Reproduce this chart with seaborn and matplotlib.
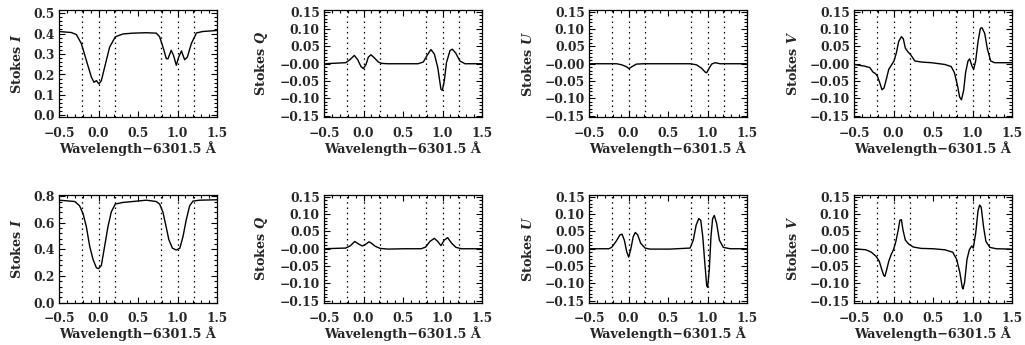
import numpy as np
import pandas as pd
import matplotlib
matplotlib.use("Agg")
import matplotlib.pyplot as plt
from matplotlib.ticker import MultipleLocator, AutoMinorLocator
import seaborn as sns

# ---------------- data ----------------
# Row 1, Stokes I
i1_x = [-0.5, -0.344, -0.28, -0.217, -0.154, -0.09, -0.057, -0.027, 0.006, 0.036, 0.078, 0.141,
        0.213, 0.31, 0.437, 0.605, 0.732, 0.774, 0.816, 0.859, 0.88, 0.92, 0.95, 0.985, 1.015,
        1.05, 1.09, 1.125, 1.175, 1.24, 1.32, 1.5]
i1_y = [0.410, 0.405, 0.395, 0.351, 0.269, 0.187, 0.162, 0.170, 0.154, 0.170, 0.236, 0.334,
        0.384, 0.398, 0.402, 0.404, 0.402, 0.384, 0.334, 0.277, 0.277, 0.318, 0.293, 0.245, 0.285,
        0.315, 0.272, 0.285, 0.351, 0.403, 0.410, 0.415]
# Row 1, Stokes Q
q1_x = [-0.5, -0.226, -0.17, -0.116, -0.074, -0.032, -0.002, 0.032, 0.061, 0.095, 0.137, 0.188,
        0.23, 0.31, 0.52, 0.69, 0.757, 0.81, 0.854, 0.897, 0.94, 0.98, 0.998, 1.023, 1.05, 1.095,
        1.124, 1.167, 1.22, 1.285, 1.5]
q1_y = [0.0, 0.003, 0.012, 0.024, 0.012, -0.008, -0.014, -0.002, 0.019, 0.026, 0.017, 0.005,
        0.001, 0.0, 0.0, 0.0, 0.005, 0.026, 0.041, 0.028, -0.011, -0.073, -0.077, -0.049, 0.003,
        0.038, 0.042, 0.031, 0.008, 0.0, 0.0]
# Row 1, Stokes U
u1_x = [-0.5, -0.15, -0.086, -0.023, 0.006, 0.04, 0.1, 0.19, 0.78, 0.86, 0.926, 0.97, 0.99,
        1.023, 1.053, 1.095, 1.16, 1.5]
u1_y = [0.0, 0.0, -0.003, -0.009, -0.014, -0.009, -0.001, 0.0, 0.0, -0.003, -0.013, -0.024,
        -0.026, -0.012, -0.001, 0.003, 0.0, 0.0]
# Row 1, Stokes V
v1_x = [-0.5, -0.365, -0.3, -0.26, -0.23, -0.205, -0.175, -0.146, -0.12, -0.09, -0.06, -0.027,
        0.006, 0.036, 0.065, 0.1, 0.124, 0.15, 0.184, 0.217, 0.27, 0.35, 0.48, 0.648, 0.73, 0.77,
        0.81, 0.837, 0.86, 0.888, 0.913, 0.943, 0.964, 0.994, 1.015, 1.04, 1.07, 1.1, 1.12,
        1.154, 1.19, 1.23, 1.28, 1.5]
v1_y = [-0.002, -0.007, -0.011, -0.024, -0.028, -0.035, -0.054, -0.075, -0.070, -0.044, -0.016,
        -0.004, 0.008, 0.031, 0.064, 0.078, 0.072, 0.045, 0.034, 0.026, 0.008, 0.005, 0.003,
        -0.002, -0.008, -0.025, -0.063, -0.096, -0.104, -0.077, -0.025, 0.008, 0.014, -0.007,
        -0.016, 0.008, 0.064, 0.102, 0.104, 0.088, 0.041, 0.008, 0.003, 0.003]
# Row 2, Stokes I
i2_x = [-0.5, -0.30, -0.24, -0.196, -0.154, -0.112, -0.07, -0.027, 0.0, 0.036, 0.078, 0.12,
        0.162, 0.213, 0.31, 0.437, 0.605, 0.73, 0.774, 0.816, 0.86, 0.89, 0.935, 0.985, 1.03,
        1.07, 1.11, 1.154, 1.196, 1.28, 1.5]
i2_y = [0.771, 0.761, 0.729, 0.670, 0.572, 0.425, 0.326, 0.262, 0.255, 0.279, 0.425, 0.572,
        0.683, 0.742, 0.754, 0.761, 0.771, 0.761, 0.742, 0.680, 0.560, 0.474, 0.410, 0.395, 0.410,
        0.498, 0.621, 0.729, 0.764, 0.771, 0.774]
# Row 2, Stokes Q
q2_x = [-0.5, -0.226, -0.17, -0.11, -0.065, -0.015, 0.015, 0.07, 0.1, 0.15, 0.21, 0.31, 0.52,
        0.73, 0.787, 0.84, 0.897, 0.94, 0.98, 1.023, 1.065, 1.115, 1.17, 1.24, 1.5]
q2_y = [0.0, 0.002, 0.008, 0.021, 0.014, 0.008, 0.011, 0.020, 0.016, 0.007, 0.001, -0.001, 0.0,
        0.0, 0.005, 0.021, 0.030, 0.021, 0.009, 0.025, 0.032, 0.016, 0.004, 0.0, 0.0]
# Row 2, Stokes U
u2_x = [-0.5, -0.25, -0.213, -0.158, -0.108, -0.082, -0.053, -0.023, 0.002, 0.027, 0.06, 0.086,
        0.116, 0.154, 0.21, 0.27, 0.525, 0.78, 0.82, 0.856, 0.89, 0.915, 0.94, 0.966, 0.99, 1.002,
        1.023, 1.044, 1.065, 1.086, 1.116, 1.15, 1.2, 1.287, 1.5]
u2_y = [0.0, 0.0, 0.004, 0.021, 0.040, 0.042, 0.025, -0.008, -0.024, -0.003, 0.035, 0.047,
        0.040, 0.016, 0.002, -0.001, -0.001, 0.002, 0.025, 0.068, 0.087, 0.082, 0.035, -0.041,
        -0.107, -0.111, -0.059, 0.035, 0.087, 0.096, 0.073, 0.025, 0.004, 0.0, 0.0]
# Row 2, Stokes V
v2_x = [-0.5, -0.35, -0.28, -0.22, -0.18, -0.15, -0.125, -0.11, -0.09, -0.06, -0.03, 0.0, 0.03,
        0.06, 0.08, 0.1, 0.12, 0.15, 0.19, 0.25, 0.35, 0.5, 0.65, 0.75, 0.8, 0.84, 0.87, 0.88,
        0.9, 0.93, 0.96, 0.99, 1.01, 1.04, 1.07, 1.09, 1.11, 1.14, 1.17, 1.22, 1.3, 1.5]
v2_y = [0.0, -0.003, -0.010, -0.022, -0.036, -0.059, -0.076, -0.080, -0.064, -0.036, -0.017,
        -0.003, 0.021, 0.054, 0.082, 0.084, 0.054, 0.025, 0.014, 0.005, 0.001, 0.0, -0.003,
        -0.010, -0.031, -0.069, -0.111, -0.116, -0.097, -0.031, -0.003, 0.008, 0.002, 0.044,
        0.110, 0.126, 0.120, 0.063, 0.021, 0.004, 0.0, -0.001]

line_positions = [-0.21, 0.0, 0.21, 0.79, 1.0, 1.21]
x_ticks = [-0.5, 0.0, 0.5, 1.0, 1.5]
x_ticklabels = ["\u22120.5", "0.0", "0.5", "1.0", "1.5"]
pol_ticks = [-0.15, -0.10, -0.05, 0.0, 0.05, 0.10, 0.15]
pol_ticklabels = ["\u22120.15", "\u22120.10", "\u22120.05", "\u22120.00", "0.05", "0.10", "0.15"]
i1_ticks = [0.0, 0.1, 0.2, 0.3, 0.4, 0.5]
i1_ticklabels = ["0.0", "0.1", "0.2", "0.3", "0.4", "0.5"]
i2_ticks = [0.0, 0.2, 0.4, 0.6, 0.8]
i2_ticklabels = ["0.0", "0.2", "0.4", "0.6", "0.8"]
stokes_names = ["I", "Q", "U", "V"]
x_label = "Wavelength\u22126301.5 \u00c5"

# ---------------- style ----------------
sns.set_theme(style="ticks")
plt.rcParams["font.family"] = ["DejaVu Serif"]
plt.rcParams["font.weight"] = "bold"
plt.rcParams["mathtext.fontset"] = "custom"
plt.rcParams["mathtext.it"] = "DejaVu Serif:italic:bold"
plt.rcParams["mathtext.rm"] = "DejaVu Serif:bold"
plt.rcParams["axes.linewidth"] = 0.9

fig = plt.figure(figsize=(10.25, 3.45), dpi=100)
W, H = 1025.0, 345.0
col_left = [59, 324, 589, 854]
row_top = [10, 195]
ax_w, ax_h = 158, 107.5

rows = [
    [(i1_x, i1_y), (q1_x, q1_y), (u1_x, u1_y), (v1_x, v1_y)],
    [(i2_x, i2_y), (q2_x, q2_y), (u2_x, u2_y), (v2_x, v2_y)],
]

for r in range(2):
    for c in range(4):
        left = col_left[c] / W
        bottom = (H - row_top[r] - ax_h) / H
        ax = fig.add_axes([left, bottom, ax_w / W, ax_h / H])
        xs, ys = rows[r][c]
        df = pd.DataFrame({"wl": xs, "val": ys})
        for xv in line_positions:
            ax.axvline(xv, color="black", lw=0.9, linestyle=(0, (1.2, 3.0)), zorder=1)
        sns.lineplot(data=df, x="wl", y="val", ax=ax, color="black", lw=1.0,
                     sort=False, estimator=None, zorder=3)
        ax.set_xlim(-0.5, 1.5)
        ax.set_xticks(x_ticks)
        ax.set_xticklabels(x_ticklabels)
        ax.xaxis.set_minor_locator(MultipleLocator(0.1))
        if c == 0:
            if r == 0:
                ax.set_ylim(-0.01, 0.515)
                ax.set_yticks(i1_ticks)
                ax.set_yticklabels(i1_ticklabels)
            else:
                ax.set_ylim(0.0, 0.81)
                ax.set_yticks(i2_ticks)
                ax.set_yticklabels(i2_ticklabels)
        else:
            ax.set_ylim(-0.155, 0.155)
            ax.set_yticks(pol_ticks)
            ax.set_yticklabels(pol_ticklabels)
        ax.yaxis.set_minor_locator(AutoMinorLocator(5))
        ax.tick_params(which="both", direction="in", top=True, right=True,
                       labelsize=8.8, width=0.8, color="black")
        ax.tick_params(axis="x", which="both", pad=7)
        ax.tick_params(axis="y", which="both", pad=3)
        ax.tick_params(which="major", length=4)
        ax.tick_params(which="minor", length=2)
        ax.set_xlabel(x_label, fontsize=9.2, fontweight="bold", labelpad=1)
        ax.set_ylabel("Stokes $\\mathit{" + stokes_names[c] + "}$", fontsize=9.2,
                      fontweight="bold", labelpad=7)
        for lab in ax.get_xticklabels() + ax.get_yticklabels():
            lab.set_fontweight("bold")
        for sp in ax.spines.values():
            sp.set_color("black")

fig.savefig("out.png", dpi=100)
